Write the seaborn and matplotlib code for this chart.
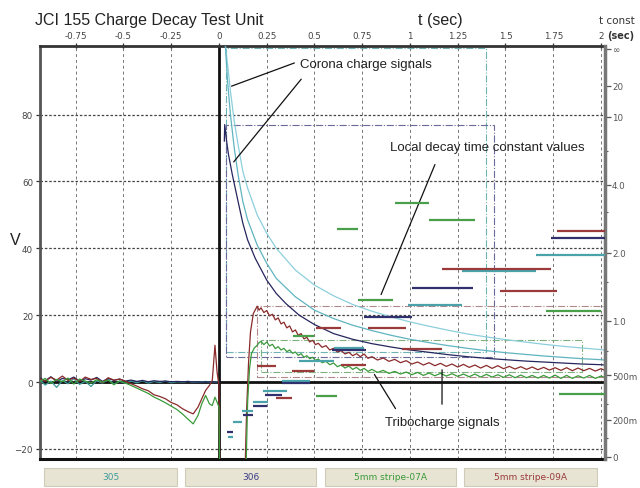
import numpy as np
import matplotlib
matplotlib.use("Agg")
import matplotlib.pyplot as plt
from matplotlib.patches import Rectangle
import seaborn as sns

sns.set_style("white")
plt.rcParams['font.family'] = ['Liberation Sans', 'DejaVu Sans']
narrow = ['Liberation Sans Narrow', 'DejaVu Sans']

W, H = 640, 489

# ---- colours of the four channels
c_305 = '#3f9c9c'
c_305_light = '#8ccfdc'
c_306 = '#26265e'
c_07a = '#3a9a3a'
c_09a = '#8a2a2a'

# ---- pre-trigger part (t in s, V)
t_pre = [-0.937, -0.91, -0.88, -0.85, -0.82, -0.79, -0.76, -0.73, -0.70, -0.67, -0.64, -0.61,
         -0.58, -0.55, -0.52, -0.49, -0.46, -0.43, -0.40, -0.37, -0.34, -0.31, -0.28, -0.25,
         -0.22, -0.19, -0.16, -0.135, -0.11, -0.09, -0.07, -0.05, -0.035, -0.021, -0.01, 0.0]
v_305_pre = [0.6, -0.9, 0.3, -1.6, 0.5, -0.5, 1.0, -0.7, 0.2, -1.3, 0.4, -0.3, 0.8, -0.6, 0.2, -0.4,
             0.3, -0.2, 0.4, -0.3, 0.2, -0.1, 0.3, -0.2, 0.1, 0.0, 0.2, -0.1, 0.1, 0.0, 0.2, 0.0,
             0.1, 0.0, 0.1, 0.0]
v_306_pre = [1.2, 0.4, 1.6, 0.2, 1.1, 0.7, 1.5, 0.3, 1.0, 0.6, 1.4, 0.2, 1.1, 0.5, 0.9, 0.3,
             0.6, 0.2, 0.5, 0.1, 0.4, 0.2, 0.3, 0.1, 0.2, 0.1, 0.2, 0.0, 0.1, 0.0, 0.1, 0.0,
             0.1, 0.0, 0.0, 0.0]

# ---- 09A (red) tribo trace
t_09a = t_pre + [0.004, 0.135, 0.145, 0.155, 0.165, 0.18, 0.2, 0.21, 0.22, 0.235, 0.25, 0.265,
                 0.28, 0.295, 0.31, 0.325, 0.34, 0.355, 0.37, 0.385, 0.40, 0.415, 0.43, 0.445,
                 0.46, 0.475, 0.49, 0.505, 0.52, 0.54, 0.56, 0.58, 0.60, 0.62, 0.64, 0.66, 0.68,
                 0.70, 0.72, 0.74, 0.76, 0.78, 0.80, 0.83, 0.86, 0.89, 0.92, 0.95, 0.98, 1.01,
                 1.04, 1.07, 1.10, 1.13, 1.16, 1.19, 1.22, 1.25, 1.28, 1.31, 1.34, 1.37, 1.40,
                 1.43, 1.46, 1.49, 1.52, 1.55, 1.58, 1.61, 1.64, 1.67, 1.70, 1.73, 1.76, 1.79,
                 1.82, 1.85, 1.88, 1.91, 1.94, 1.97, 2.00, 2.02]
v_09a = [1.0, 0.3, 1.4, 0.6, 1.8, 0.5, 1.2, 0.2, 1.5, 0.8, 1.1, -0.2, 1.3, 0.6, 0.9, 0.2, -0.5,
         -1.2, -2.0, -2.6, -3.8, -4.3, -5.0, -6.1, -6.8, -8.0, -8.9, -9.5, -7.5, -5.0, -2.5,
         -1.0, 0.5, 11.0, 3.0, -1.0,
         -30, -30, -8, 6, 15, 20.5, 22.7, 21.5, 22.2, 20.8, 21.4, 19.8, 20.3, 18.6, 19.2, 17.4,
         17.9, 16.2, 16.8, 15.0, 15.6, 14.0, 14.5, 12.9, 13.4, 12.0, 12.5, 11.2, 11.6, 10.4,
         10.9, 9.6, 10.1, 9.0, 9.4, 8.4, 8.9, 7.9, 8.5, 7.6, 8.4, 7.1, 7.6, 6.6, 7.2, 6.2, 6.8,
         5.8, 6.4, 5.4, 6.0, 5.1, 5.8, 4.9, 5.6, 4.7, 5.4, 4.5, 5.3, 4.4, 5.1, 4.2, 5.0, 4.1,
         4.9, 4.0, 4.7, 3.9, 4.6, 3.8, 4.5, 3.7, 4.4, 3.6, 4.3, 3.5, 4.3, 3.4, 4.2, 3.4, 4.1,
         3.3, 4.0, 3.5]

# ---- 07A (green) tribo trace
t_07a = t_pre + [0.004, 0.14, 0.15, 0.16, 0.17, 0.185, 0.2, 0.21, 0.22, 0.235, 0.25, 0.265,
                 0.28, 0.295, 0.31, 0.325, 0.34, 0.355, 0.37, 0.385, 0.40, 0.415, 0.43, 0.445,
                 0.46, 0.475, 0.49, 0.505, 0.52, 0.54, 0.56, 0.58, 0.60, 0.62, 0.64, 0.66, 0.68,
                 0.70, 0.72, 0.74, 0.76, 0.78, 0.80, 0.83, 0.86, 0.89, 0.92, 0.95, 0.98, 1.01,
                 1.04, 1.07, 1.10, 1.13, 1.16, 1.19, 1.22, 1.25, 1.28, 1.31, 1.34, 1.37, 1.40,
                 1.43, 1.46, 1.49, 1.52, 1.55, 1.58, 1.61, 1.64, 1.67, 1.70, 1.73, 1.76, 1.79,
                 1.82, 1.85, 1.88, 1.91, 1.94, 1.97, 2.00, 2.02]
v_07a = [0.2, 1.1, -0.4, 0.8, 0.1, 1.2, -0.6, 0.9, 0.3, -0.3, 0.7, 0.0, 0.6, -0.8, 0.4, -0.3,
         -1.0, -1.8, -2.6, -3.4, -4.5, -5.3, -6.2, -7.2, -8.2, -9.6, -11.2, -12.5, -10.0, -6.5,
         -4.0, -6.5, -7.0, -4.5, -6.0, -7.5,
         -30, -30, -6, 4, 8.5, 10.2, 11.0, 11.8, 12.2, 11.2, 12.0, 10.8, 11.3, 10.0, 10.6, 9.6,
         10.1, 9.1, 9.6, 8.6, 9.0, 8.0, 8.5, 7.4, 7.9, 7.0, 7.4, 6.5, 6.9, 5.8, 6.2, 5.2, 5.7,
         4.6, 5.1, 4.2, 4.8, 3.8, 4.4, 3.5, 4.1, 3.2, 3.8, 2.9, 3.5, 2.6, 3.2, 2.4, 3.0, 2.2,
         2.9, 2.0, 2.7, 1.9, 2.6, 1.8, 2.5, 1.7, 2.4, 1.6, 2.4, 1.5, 2.3, 1.5, 2.2, 1.4, 2.2,
         1.3, 2.1, 1.3, 2.0, 1.2, 2.0, 1.2, 2.1, 1.1, 2.0, 1.1, 1.9, 1.2, 2.0, 1.1, 1.8, 1.4]

# ---- corona decay curves
t_cor = [0.033, 0.045, 0.06, 0.08, 0.1, 0.125, 0.15, 0.2, 0.25, 0.3, 0.4, 0.5, 0.6, 0.7, 0.8,
         0.9, 1.0, 1.1, 1.2, 1.3, 1.4, 1.5, 1.6, 1.7, 1.8, 1.9, 2.0, 2.02]
v_cor_outer = [101, 95, 87, 78, 71, 63, 58, 50, 44.5, 40, 33.5, 29, 25.8, 23.2, 21.2, 19.5,
               18.0, 16.7, 15.5, 14.4, 13.5, 12.7, 12.0, 11.3, 10.7, 10.2, 9.7, 9.6]
v_cor_inner = [101, 90, 80, 70, 62, 54, 48.5, 41, 35.5, 31, 25.5, 21.5, 19, 17, 15.4, 14,
               12.8, 11.8, 10.9, 10.1, 9.4, 8.8, 8.3, 7.8, 7.4, 7.0, 6.7, 6.6]
t_cor_306 = [0.028, 0.03, 0.04, 0.05, 0.07, 0.1, 0.125, 0.15, 0.19, 0.25, 0.3, 0.35, 0.42,
             0.5, 0.6, 0.7, 0.8, 0.9, 1.0, 1.1, 1.2, 1.3, 1.4, 1.5, 1.6, 1.7, 1.8, 1.9, 2.0, 2.02]
v_cor_306 = [72, 77, 72, 68, 62, 54, 47.5, 42.5, 37, 30.5, 26.5, 23.5, 20, 17.2, 14.5, 12.8,
             11.5, 10.5, 9.6, 8.9, 8.2, 7.6, 7.1, 6.7, 6.3, 6.0, 5.7, 5.4, 5.2, 5.1]

# ---- measurement windows (dash-dot boxes)
win_t0 = [0.037, 0.037, 0.20, 0.22]
win_t1 = [1.40, 1.44, 2.021, 1.90]
win_v0 = [9, 7.5, 1.5, 3]
win_v1 = [100, 77, 22.7, 12.5]
win_col = ['#6fb3b3', '#6a6a9a', '#b08a8a', '#7fb07f']

# ---- local decay time constants (right axis, seconds)
seg_305_t0 = [1.66, 1.27, 0.99, 0.60, 0.42, 0.33, 0.23, 0.18, 0.12, 0.073, 0.047]
seg_305_t1 = [2.02, 1.66, 1.27, 0.76, 0.60, 0.475, 0.355, 0.255, 0.18, 0.12, 0.073]
seg_305_tau = [1.96, 1.68, 1.19, 0.73, 0.615, 0.46, 0.385, 0.31, 0.254, 0.188, 0.105]
seg_306_t0 = [1.74, 1.01, 0.76, 0.59, 0.33, 0.24, 0.18, 0.125, 0.042]
seg_306_t1 = [2.02, 1.33, 1.01, 0.77, 0.475, 0.33, 0.25, 0.18, 0.073]
seg_306_tau = [2.32, 1.41, 1.04, 0.71, 0.44, 0.36, 0.286, 0.23, 0.13]
seg_07a_t0 = [1.71, 1.10, 0.92, 0.62, 0.73, 0.39, 0.51, 1.78]
seg_07a_t1 = [2.00, 1.34, 1.10, 0.73, 0.91, 0.50, 0.62, 2.02]
seg_07a_tau = [1.115, 2.77, 3.30, 2.53, 1.25, 0.84, 0.35, 0.365]
seg_09a_t0 = [1.77, 1.47, 1.17, 0.96, 0.78, 0.51, 0.64, 0.38, 0.20, 0.30]
seg_09a_t1 = [2.02, 1.77, 1.74, 1.17, 0.98, 0.64, 0.77, 0.50, 0.30, 0.38]
seg_09a_tau = [2.48, 1.37, 1.71, 0.72, 0.92, 0.92, 0.58, 0.535, 0.575, 0.34]

x_ticks = [-0.75, -0.5, -0.25, 0, 0.25, 0.5, 0.75, 1, 1.25, 1.5, 1.75, 2]
x_labels = ['-0.75', '-0.5', '-0.25', '0', '0.25', '0.5', '0.75', '1', '1.25', '1.5', '1.75', '2']
y_ticks = [-20, 0, 20, 40, 60, 80]
tc_ticks = [0, 0.2, 0.5, 1.0, 2.0, 4.0, 10, 20, np.inf]
tc_labels = ['0', '200m', '500m', '1.0', '2.0', '4.0', '10', '20', '\u221e']
tc_minor = [0.1, 0.3, 0.7, 1.5, 3, 6]
legend_names = ['305', '306', '5mm stripe-07A', '5mm stripe-09A']
legend_cols = [c_305, '#3a3a8a', c_07a, '#9a3a3a']


def tc_scale(tau):
    # right axis: tau/(tau+2), infinity at the top
    tau = np.asarray(tau, dtype=float)
    finite = np.where(np.isinf(tau), 1.0, tau)
    return np.where(np.isinf(tau), 1.0, finite / (finite + 2.0))


fig = plt.figure(figsize=(6.4, 4.89), dpi=100)
ax = fig.add_axes([40 / W, 1 - 460 / H, 565 / W, 413 / H])

# grid
for t in x_ticks:
    if t != 0:
        ax.axvline(t, color='#777777', ls=(0, (3, 3)), lw=0.7, zorder=1)
for v in [80, 60, 40, 20, -20]:
    ax.axhline(v, color='#444444', ls=(0, (2, 1.5)), lw=0.9, zorder=1)
ax.axhline(0, color='#111111', lw=2, zorder=2)
ax.axvline(0, color='#111111', lw=2, zorder=2)

# windows
for t0, t1, v0, v1, c in zip(win_t0, win_t1, win_v0, win_v1, win_col):
    ax.add_patch(Rectangle((t0, v0), t1 - t0, v1 - v0, fill=False, ls='-.', lw=0.8,
                           edgecolor=c, zorder=2))

# traces
traces = [(t_pre, v_305_pre, c_305), (t_pre, v_306_pre, c_306),
          (t_cor, v_cor_outer, c_305_light), (t_cor, v_cor_inner, '#5fb4bf'),
          (t_cor_306, v_cor_306, c_306),
          (t_09a, v_09a, c_09a), (t_07a, v_07a, c_07a)]
for tx, vy, c in traces:
    sns.lineplot(x=tx, y=vy, ax=ax, color=c, lw=0.9, sort=False, estimator=None, zorder=3)

ax.set_xlim(-0.937, 2.021)
ax.set_ylim(-23, 100.5)
ax.set_xlabel('')
ax.set_ylabel('')
ax.xaxis.tick_top()
ax.set_xticks(x_ticks)
ax.set_xticklabels(x_labels)
ax.set_yticks(y_ticks)
ax.tick_params(axis='x', top=True, bottom=False, labeltop=True, labelbottom=False,
               direction='inout', length=5, width=0.9, pad=2, labelsize=6.3,
               labelcolor='#444444', color='#333333')
ax.tick_params(axis='y', direction='out', length=3, width=0.9, pad=2, labelsize=6.3,
               labelcolor='#444444', color='#333333')
for lab in ax.get_xticklabels() + ax.get_yticklabels():
    lab.set_fontfamily(narrow)
ax.spines['left'].set_linewidth(2)
ax.spines['left'].set_color('#555555')
ax.spines['top'].set_linewidth(2)
ax.spines['top'].set_color('#333333')
ax.spines['bottom'].set_linewidth(2.2)
ax.spines['bottom'].set_color('#111111')
ax.spines['right'].set_visible(False)

# right axis: time constants
ax2 = ax.twinx()
ax2.set_ylim(-0.005, 1.007)
seg_sets = [(seg_305_t0, seg_305_t1, seg_305_tau, '#4aa3ab'),
            (seg_306_t0, seg_306_t1, seg_306_tau, '#30306e'),
            (seg_07a_t0, seg_07a_t1, seg_07a_tau, '#4aa04a'),
            (seg_09a_t0, seg_09a_t1, seg_09a_tau, '#9a3a3a')]
for t0, t1, tau, c in seg_sets:
    ax2.hlines(tc_scale(tau), t0, t1, colors=c, lw=1.6, zorder=4)
ax2.set_yticks(tc_scale(tc_ticks))
ax2.set_yticklabels(tc_labels)
ax2.set_yticks(tc_scale(tc_minor), minor=True)
ax2.tick_params(axis='y', which='major', direction='out', length=4, width=0.9, pad=1,
                labelsize=6.3, labelcolor='#555555', color='#555555')
ax2.tick_params(axis='y', which='minor', direction='out', length=2, width=0.8, color='#555555')
for lab in ax2.get_yticklabels():
    lab.set_fontfamily(narrow)
for s in ['left', 'top', 'bottom']:
    ax2.spines[s].set_visible(False)
ax2.spines['right'].set_linewidth(2.5)
ax2.spines['right'].set_color('#777777')
ax2.set_xlim(-0.937, 2.021)

# annotations (text placed in figure pixels)
line_kw = dict(arrowstyle='-', color='#111111', lw=0.9)
ax.annotate('', xy=(0.052, 88.2), xytext=(297, H - 63), textcoords='figure pixels',
            arrowprops=line_kw, zorder=6)
ax.annotate('', xy=(0.068, 65.2), xytext=(303, H - 78), textcoords='figure pixels',
            arrowprops=line_kw, zorder=6)
ax.annotate('', xy=(0.843, 25.4), xytext=(436, H - 163), textcoords='figure pixels',
            arrowprops=line_kw, zorder=6)
ax.annotate('', xy=(0.806, 3.0), xytext=(397, H - 412), textcoords='figure pixels',
            arrowprops=line_kw, zorder=6)
ax.annotate('', xy=(1.168, 4.5), xytext=(442, H - 408), textcoords='figure pixels',
            arrowprops=line_kw, zorder=6)
fig.text(300 / W, 1 - 65 / H, 'Corona charge signals', fontsize=9.5, va='center', ha='left',
         color='#222222')
fig.text(390 / W, 1 - 148 / H, 'Local decay time constant values', fontsize=9.5, va='center',
         ha='left', color='#222222')
fig.text(385 / W, 1 - 423 / H, 'Tribocharge signals', fontsize=9.5, va='center', ha='left',
         color='#222222')

# header texts
fig.text(35 / W, 1 - 20 / H, 'JCI 155 Charge Decay Test Unit', fontsize=11.5, va='center',
         ha='left', color='#222222')
fig.text(440 / W, 1 - 20 / H, 't (sec)', fontsize=11.5, va='center', ha='center',
         color='#222222')
fig.text(617 / W, 1 - 21 / H, 't const', fontsize=7.5, va='center', ha='center',
         color='#333333', family=narrow)
fig.text(607 / W, 1 - 36 / H, '(sec)', fontsize=7, va='center', ha='left',
         color='#333333', family=narrow, fontweight='bold')
fig.text(15 / W, 1 - 241 / H, 'V', fontsize=11.5, va='center', ha='center', color='#222222')

# channel boxes
box_x0 = [44, 185, 325, 464]
box_x1 = [177, 316, 456, 597]
for x0, x1, name, c in zip(box_x0, box_x1, legend_names, legend_cols):
    fig.add_artist(Rectangle((x0 / W, 2 / H), (x1 - x0) / W, 18 / H, transform=fig.transFigure,
                             facecolor='#e7e4d3', edgecolor='#cfcbb8', lw=0.8))
    fig.text((x0 + x1) / 2 / W, 11 / H, name, fontsize=6.5, color=c, ha='center', va='center',
             family=narrow)

fig.savefig('out.png', dpi=100)
